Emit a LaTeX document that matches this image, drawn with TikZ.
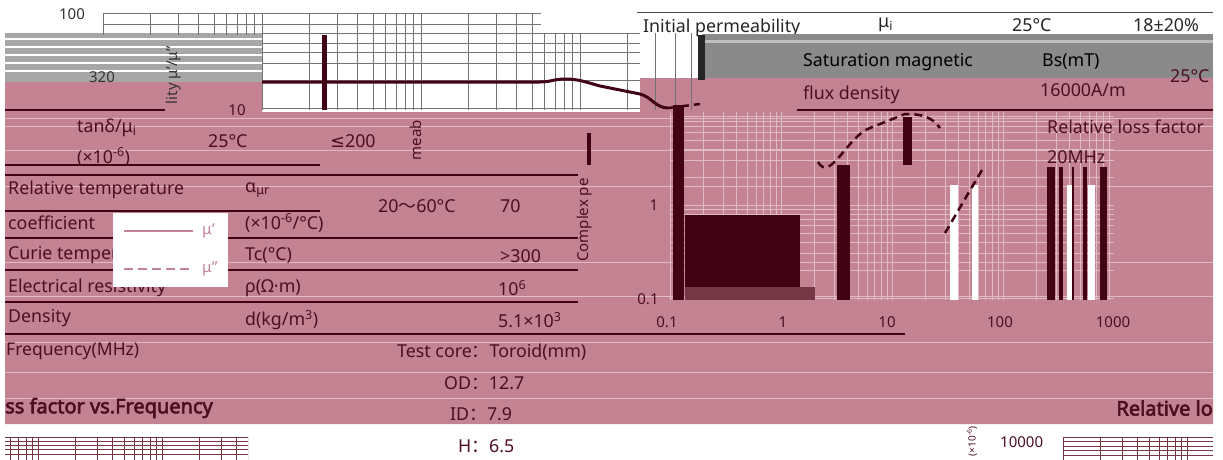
\documentclass[tikz,border=0pt]{standalone}
\usepackage{fontspec}
\setmainfont{Noto Sans}
\newfontfamily\cjk{Noto Sans CJK SC}
\newfontfamily\symfont{DejaVu Sans}
\newfontfamily\titlefont{Noto Sans}[FakeBold=3]
\usetikzlibrary{positioning}
\definecolor{rose}{RGB}{196,131,146}
\definecolor{wine}{RGB}{64,2,20}
\definecolor{ink}{RGB}{78,14,34}
\definecolor{band}{RGB}{138,138,138}
\definecolor{gridgray}{RGB}{115,115,115}
\tikzset{
    cell/.style={
           anchor=west,
           inner sep=0pt,
           text=ink,
           font=\fontsize{17.8}{19}\selectfont,
           },
}
\tikzset{
    head/.style={
           anchor=west,
           inner sep=0pt,
           text=black!85,
           font=\fontsize{17.8}{19}\selectfont,
           },
}
\tikzset{
    tick/.style={
           inner sep=0pt,
           text=ink,
           font=\fontsize{15}{17}\selectfont,
           },
}
\tikzset{
    title/.style={
           anchor=west,
           inner sep=0pt,
           text=ink,
           font=\titlefont\fontsize{20}{22}\selectfont,
           },
}
\tikzset{
    rowline/.style={
           draw=wine, line width=1.2pt,
           },
}
\tikzset{
    gridline/.style={
           draw=gridgray, line width=0.8pt,
           },
}

\begin{document}
\begin{tikzpicture}[x=1pt,y=-1pt]
\useasboundingbox (0,0) rectangle (1223,460);
\fill[white] (0,0) rectangle (1223,460);
% bands behind the table
\fill[band!75] (5,33) rectangle (262,82);
\foreach \y in {39,47,55,63,71}
  \draw[white,line width=1.6pt] (5,\y) -- (262,\y);
\node[head] (initperm) at (643,28) {Initial permeability};
\node[head] (mui) at (878,25) {μ\textsubscript{i}};
\node[head] (initT) at (1012,25) {25°C};
\node[head] (initVal) at (1133,25) {18±20\%};
\fill[band] (702,34) rectangle (1213,78);
\fill[band!55] (702,40) rectangle (1213,43);
\fill[rose] (5,82) -- (262,82) -- (262,112) -- (640,112) -- (640,78)
  -- (1213,78) -- (1213,424) -- (5,424) -- cycle;
\foreach \y in {118,126,150,186,262,296,342,372,398}
  \draw[rose!55!white,line width=1pt] (5,\y) -- (1213,\y);

% log grids
\begin{scope}
\clip (103,13) rectangle (541,35);
\foreach \d in {0,1,2} \foreach \m in {1,...,9} {
  \pgfmathsetmacro{\gx}{103+159*(\d+log10(\m))}
  \draw[gridline] (\gx,13) -- (\gx,35);
}
\draw[gridline] (103,13) -- (541,13) (103,24) -- (541,24) (103,35) -- (541,35);
\end{scope}
\begin{scope}
\clip (262,33) rectangle (702,110);
\foreach \d in {0,1,2,3} \foreach \m in {1,...,9} {
  \pgfmathsetmacro{\gx}{103+159*(\d+log10(\m))}
  \draw[gridline] (\gx,33) -- (\gx,110);
}
\foreach \y in {33,43,52,63,80,108}
  \draw[gridline] (262,\y) -- (640,\y);
\end{scope}
\begin{scope}
\clip (670,112) rectangle (1114,300);
\foreach \d in {0,1,2,3} \foreach \m in {1,...,9} {
  \pgfmathsetmacro{\gx}{670+111*(\d+log10(\m))}
  \pgfmathsetmacro{\gy}{298-93*log10(\m)}
  \draw[rose!55!white,line width=0.7pt] (\gx,112) -- (\gx,300);
  \draw[rose!55!white,line width=0.7pt] (670,\gy) -- (1114,\gy) (670,\gy-93) -- (1114,\gy-93);
}
\end{scope}
\begin{scope}
\clip (5,437) rectangle (248,460);
\foreach \d in {-1,0,1} \foreach \m in {1,...,9} {
  \pgfmathsetmacro{\gx}{38+124*(\d+log10(\m))}
  \draw[wine!60!rose,line width=0.8pt] (\gx,437) -- (\gx,460);
}
\foreach \y in {437,441,445,449,454}
  \draw[wine!60!rose,line width=0.8pt] (5,\y) -- (248,\y);
\end{scope}
\begin{scope}
\clip (1063,437) rectangle (1213,460);
\foreach \d in {0,1} \foreach \m in {1,...,9} {
  \pgfmathsetmacro{\gx}{1063+124*(\d+log10(\m))}
  \draw[wine!60!rose,line width=0.8pt] (\gx,437) -- (\gx,460);
}
\foreach \y in {437,441,446,450,455}
  \draw[wine!60!rose,line width=0.8pt] (1063,\y) -- (1213,\y);
\end{scope}

% dark blocks
\fill[wine] (322,35) rectangle (327,110);
\fill[black!85] (698,35) rectangle (705,80);
\fill[wine] (673,105) rectangle (684,300);
\fill[wine] (587,133) rectangle (591,165);
\fill[wine] (685,215) rectangle (800,287);
\fill[wine!60!rose] (685,287) rectangle (815,300);
\fill[wine] (837,165) rectangle (850,300);
\fill[wine] (903,117) rectangle (912,165);
\foreach \a/\b in {1047/1055,1059/1063,1072/1074,1083/1087,1100/1107}
  \fill[wine] (\a,167) rectangle (\b,300);
\foreach \a/\b in {1067/1072,1088/1095,950/958,972/978}
  \fill[white] (\a,185) rectangle (\b,300);

% table rules
\foreach \y in {175,238,270,302}
  \draw[rowline] (5,\y) -- (578,\y);
\draw[rowline] (5,110) -- (165,110);
\draw[rowline] (5,165) -- (320,165);
\draw[rowline] (5,211) -- (320,211);
\draw[rowline] (5,334) -- (905,334);
\draw[rowline] (797,110) -- (1213,110);
\draw[draw=black!70,line width=1pt] (637,13) -- (1213,13);

% table texts
\node[head,text=black] (satA) at (803,62) {Saturation magnetic};
\node[head,text=black] (bs) at (1042,62) {Bs(mT)};
\node[cell] (satB) at (803,95) {flux density};
\node[cell] (hfield) at (1040,90) {16000A/m};
\node[cell] (satT) at (1170,76) {25°C};
\node[tick,text=black!80] (ymax) at (72,14) {100};
\node[tick,text=black!80] (satVal) at (102,77) {320};
\node[tick] (yten) at (237,110) {10};
\node[cell] (lossA) at (1047,127) {Relative loss factor};
\node[cell] (lossF) at (1047,157) {20MHz};
\node[cell] (tand) at (77,128) {tanδ/μ\textsubscript{i}};
\node[cell] (tandunit) at (77,157) {(×10\textsuperscript{-6})};
\node[cell] (lossT) at (208,141) {25°C};
\node[cell] (lossVal) at (330,141) {{\symfont ≤}200};
\node[cell] (rtcA) at (8,190) {Relative temperature};
\node[cell] (rtcB) at (8,223) {coefficient};
\node[cell] (alpha) at (245,190) {α\textsubscript{μr}};
\node[cell] (alphaunit) at (245,223) {(×10\textsuperscript{-6}/°C)};
\node[cell] (rtcT) at (378,206) {20{\cjk ～}60°C};
\node[cell] (rtcVal) at (500,206) {70};
\node[cell] (curie) at (8,255) {Curie temperature};
\node[cell] (tc) at (245,255) {Tc(°C)};
\node[cell] (tcVal) at (500,256) {>300};
\node[cell] (resist) at (8,288) {Electrical resistivity};
\node[cell] (rho) at (245,288) {ρ(Ω·m)};
\node[cell] (rhoVal) at (498,288) {10\textsuperscript{6}};
\node[cell] (dens) at (8,318) {Density};
\node[cell] (dunit) at (245,320) {d(kg/m\textsuperscript{3})};
\node[cell] (dVal) at (498,320) {5.1×10\textsuperscript{3}};

% legend
\fill[white] (113,213) rectangle (228,287);
\coordinate (solidA) at (124,231);
\coordinate (solidB) at (193,231);
\coordinate (dashA) at (124,269);
\coordinate (dashB) at (193,269);
\draw[rose,line width=2pt] (solidA) -- (solidB);
\draw[rose,line width=2pt,dash pattern=on 9pt off 5pt] (dashA) -- (dashB);
\node[tick,text=rose,anchor=west,right=9pt of solidB] (muone) {μ'};
\node[tick,text=rose,anchor=west,right=9pt of dashB] (mutwo) {μ''};

% curves
\draw[wine,line width=3pt] (262,82) -- (540,82) to[out=0,in=180] (565,79)
  to[out=0,in=165] (600,86) -- (640,94) to[out=-15,in=180] (668,108);
\draw[wine,line width=2.5pt,dash pattern=on 8pt off 5pt] (668,108) -- (700,104);
\draw[wine,line width=2.5pt,dash pattern=on 8pt off 5pt] (818,162)
  to[out=-60,in=200] (870,128) -- (905,114) to[out=0,in=125] (940,128);
\draw[wine,line width=2.5pt,dash pattern=on 8pt off 5pt] (945,233) -- (982,170);

% axis texts
\node[tick] (yone) at (654,205) {1};
\node[tick] (ytenth) at (648,299) {0.1};
\node[tick] (xa) at (667,322) {0.1};
\node[tick] (xb) at (783,322) {1};
\node[tick] (xc) at (887,322) {10};
\node[tick] (xd) at (1000,322) {100};
\node[tick] (xe) at (1113,322) {1000};
\node[tick,text=black!80,rotate=90] (ylabA) at (174,75) {lity μ'/μ''};
\node[tick,rotate=90] (ylabB) at (416,140) {meab};
\node[tick,rotate=90] (ylabC) at (585,220) {Complex pe};
\node[tick,anchor=west,font=\fontsize{17.5}{19}\selectfont] (freqlab) at (6,351) {Frequency(MHz)};

% test core
\node[cell] (core) at (397,352) {Test core{\cjk ：}Toroid(mm)};
\node[cell] (od) at (444,383) {OD{\cjk ：}12.7};
\node[cell] (id) at (450,414) {ID{\cjk ：}7.9};
\node[cell] (hgt) at (458,446) {H{\cjk ：}6.5};
\node[title] (titleL) at (5,408) {ss factor vs.Frequency};
\node[title,anchor=east] (titleR) at (1213,408) {Relative lo};
\node[tick,anchor=west] (lossmax) at (1000,442) {10000};
\node[tick,rotate=90,anchor=east,font=\fontsize{10}{12}\selectfont] (lossunit) at (972,426) {(×10\textsuperscript{-6})};
\end{tikzpicture}
\end{document}
